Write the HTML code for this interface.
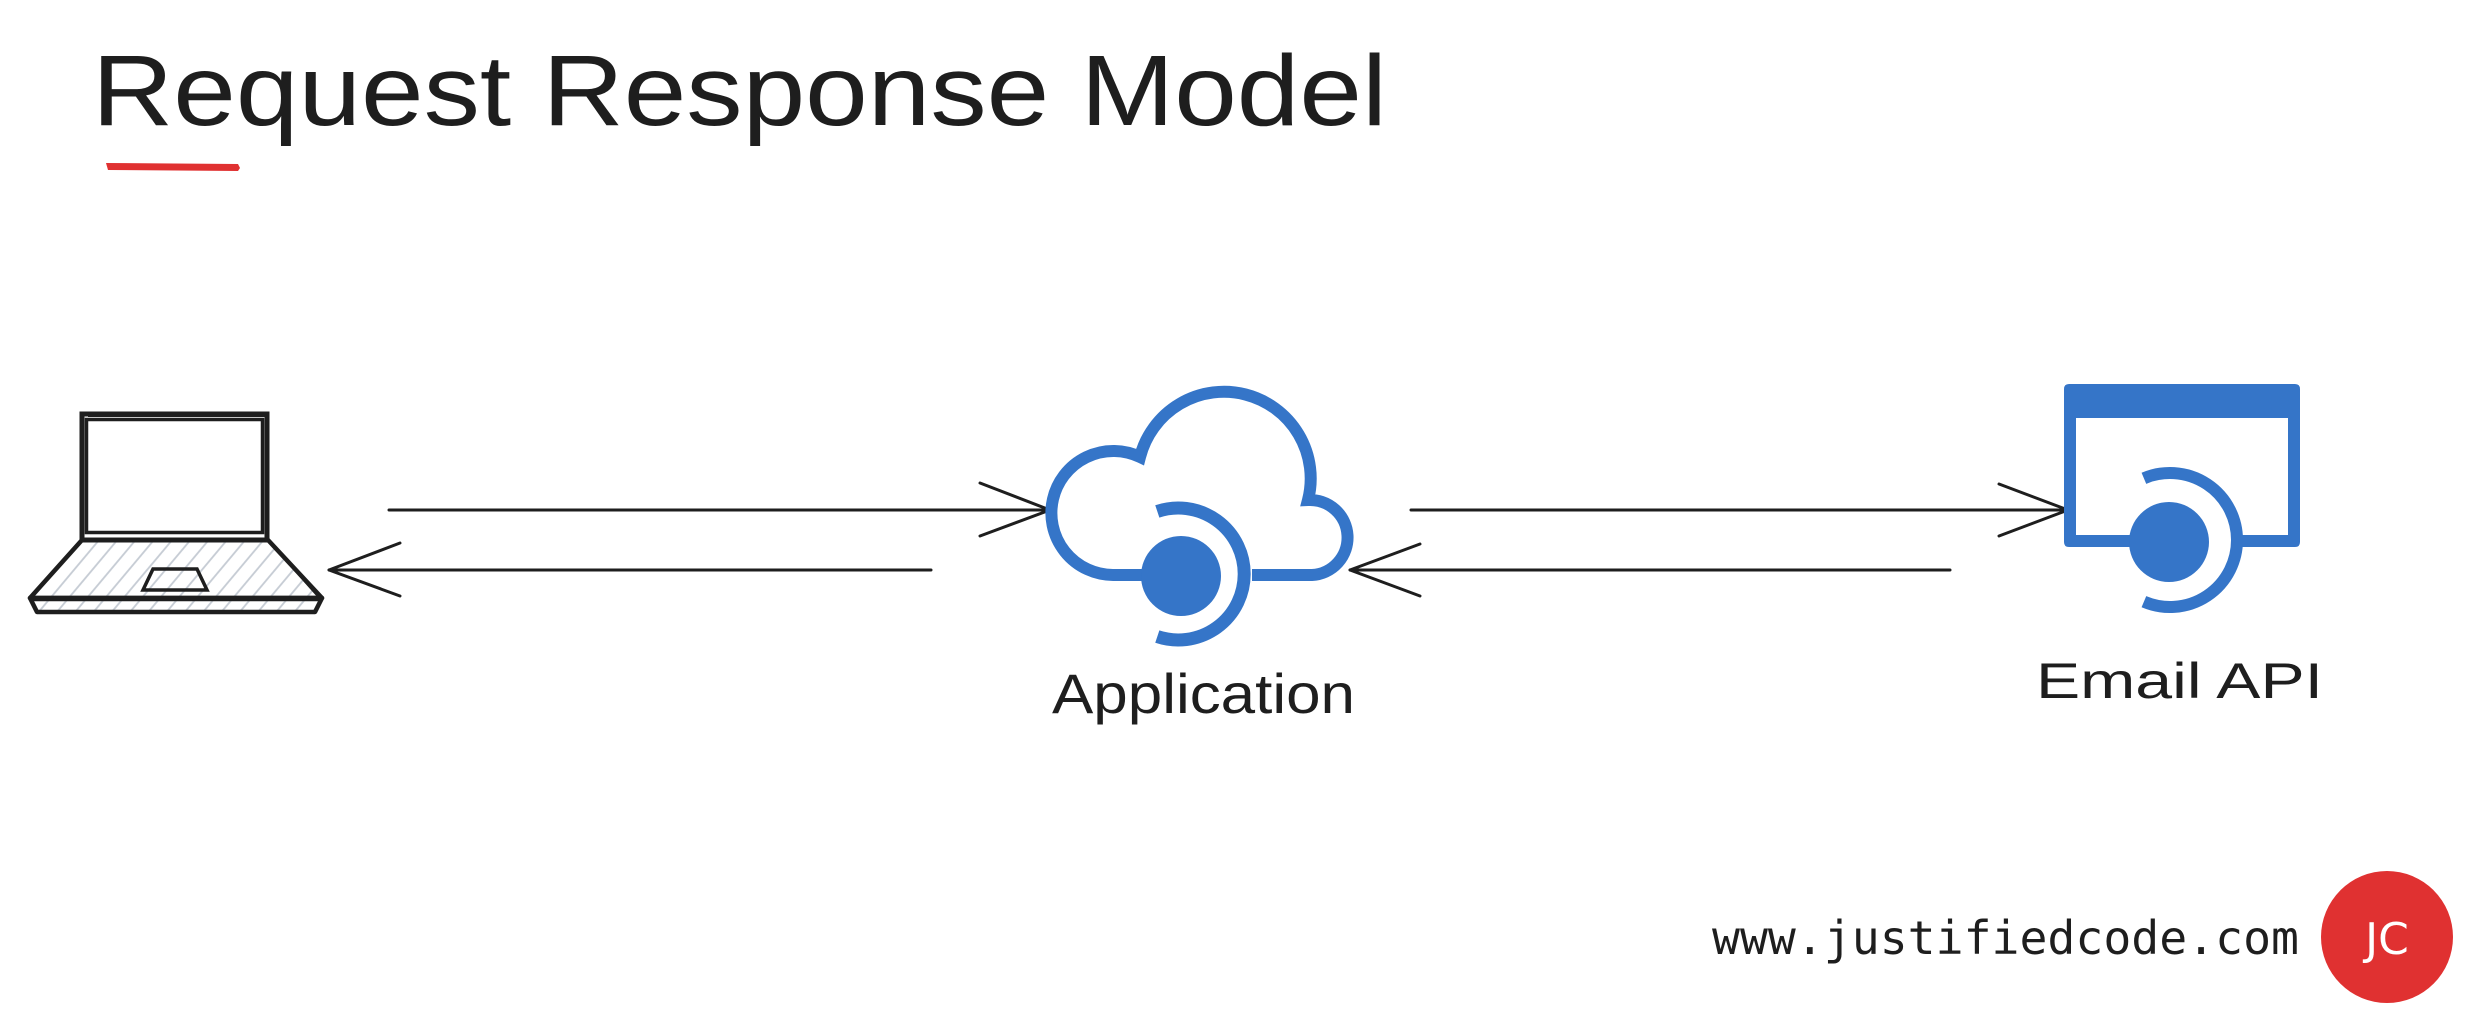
<!DOCTYPE html>
<html>
<head>
<meta charset="utf-8">
<style>
  html, body { margin:0; padding:0; background:#ffffff; }
  body { width:2485px; height:1035px; overflow:hidden; }
  svg { display:block; }
  .hand { font-family: "Liberation Sans", "DejaVu Sans", sans-serif; fill:#1e1e1e; }
  .mono { font-family: "DejaVu Sans Mono", "Liberation Mono", monospace; fill:#1e1e1e; }
</style>
</head>
<body>
<svg width="2485" height="1035" viewBox="0 0 2485 1035" xmlns="http://www.w3.org/2000/svg">
  <defs>
    <pattern id="hatch" patternUnits="userSpaceOnUse" width="14" height="14" patternTransform="rotate(40)">
      <line x1="3" y1="0" x2="3" y2="14" stroke="#c5cbd3" stroke-width="1.8"/>
    </pattern>
    <clipPath id="baseClip">
      <polygon points="81,540 268,540 322,598 315,612 37,612 30,598"/>
    </clipPath>
  </defs>

  <rect width="2485" height="1035" fill="#ffffff"/>

  <!-- Title -->
  <text class="hand" x="92" y="125" font-size="100" textLength="1295" lengthAdjust="spacingAndGlyphs">Request Response Model</text>
  <path d="M106 163 L238 164 L240 168 L238 171 L108 170 Z" fill="#e03131"/>

  <!-- Laptop -->
  <g>
    <rect x="30" y="540" width="292" height="72" fill="url(#hatch)" clip-path="url(#baseClip)"/>
    <!-- screen outer -->
    <rect x="82" y="414" width="185" height="126" fill="#ffffff" stroke="#1e1e1e" stroke-width="5"/>
    <!-- screen inner -->
    <rect x="86.5" y="419.5" width="176" height="113" fill="none" stroke="#1e1e1e" stroke-width="3.5"/>
    <line x1="88" y1="416" x2="265" y2="416" stroke="#1e1e1e" stroke-width="2"/>
    <!-- base -->
    <path d="M82 540 L268 540 L322 598 L30 598 Z" fill="none" stroke="#1e1e1e" stroke-width="4.5" stroke-linejoin="round"/>
    <path d="M271 543 L318 596" fill="none" stroke="#1e1e1e" stroke-width="2.5"/>
    <path d="M30 598 L322 598 L315 612 L37 612 Z" fill="none" stroke="#1e1e1e" stroke-width="4.5" stroke-linejoin="round"/>
    <line x1="31" y1="600" x2="321" y2="600" stroke="#1e1e1e" stroke-width="2.5"/>
    <!-- touchpad -->
    <path d="M153 569 L197 569 L207 590 L143 590 Z" fill="none" stroke="#1e1e1e" stroke-width="3.5"/>
  </g>

  <!-- Arrows laptop <-> app -->
  <g stroke="#1e1e1e" stroke-width="3" fill="none" stroke-linecap="round" stroke-linejoin="round">
    <line x1="389" y1="510" x2="1050" y2="510"/>
    <polyline points="980,483 1050,510 980,536"/>
    <line x1="931" y1="570" x2="329" y2="570"/>
    <polyline points="400,543 329,570 400,596"/>
  </g>

  <!-- Cloud application -->
  <g fill="none" stroke="#3575c8" stroke-width="12">
    <path d="M1142 575 L1113 575 A62 62 0 1 1 1140 457 A86.5 86.5 0 1 1 1308 500 A37.5 37.5 0 1 1 1312 575 L1252 575"/>
    <path d="M1157.3 511.4 A66 66 0 1 1 1157.3 636.6" stroke-width="13"/>
  </g>
  <circle cx="1181" cy="576" r="40" fill="#3575c8"/>
  <text class="hand" x="1052" y="713" font-size="56" textLength="303" lengthAdjust="spacingAndGlyphs">Application</text>

  <!-- Arrows app <-> email -->
  <g stroke="#1e1e1e" stroke-width="3" fill="none" stroke-linecap="round" stroke-linejoin="round">
    <line x1="1411" y1="510" x2="2068" y2="510"/>
    <polyline points="1999,484 2068,510 1999,536"/>
    <line x1="1950" y1="570" x2="1350" y2="570"/>
    <polyline points="1420,544 1350,570 1420,596"/>
  </g>

  <!-- Email API window -->
  <g fill="#3575c8">
    <path d="M2069 384 L2295 384 Q2300 384 2300 389 L2300 418 L2064 418 L2064 389 Q2064 384 2069 384 Z"/>
    <rect x="2064" y="410" width="12" height="131"/>
    <rect x="2288" y="410" width="12" height="131"/>
    <path d="M2064 535 L2140 535 L2140 547 L2069 547 Q2064 547 2064 542 Z"/>
    <path d="M2232 535 L2300 535 L2300 542 Q2300 547 2295 547 L2232 547 Z"/>
  </g>
  <path d="M2143.9 478.3 A67 67 0 1 1 2143.9 601.7" fill="none" stroke="#3575c8" stroke-width="12"/>
  <circle cx="2169" cy="542" r="40" fill="#3575c8"/>
  <text class="hand" x="2036" y="698" font-size="50" textLength="287" lengthAdjust="spacingAndGlyphs">Email API</text>

  <!-- Footer -->
  <text class="mono" x="1712" y="954" font-size="46" textLength="587" lengthAdjust="spacingAndGlyphs">www.justifiedcode.com</text>
  <circle cx="2387" cy="937" r="66" fill="#e03131"/>
  <text x="2387" y="954" font-size="44" text-anchor="middle" fill="#ffffff" font-family="'DejaVu Sans', 'Liberation Sans', sans-serif">JC</text>
</svg>
</body>
</html>
